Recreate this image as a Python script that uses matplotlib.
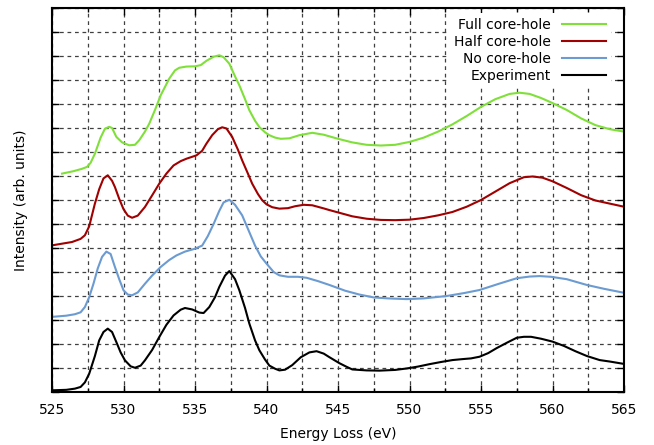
import matplotlib
matplotlib.use("Agg")
import matplotlib.pyplot as plt
from matplotlib.ticker import MultipleLocator, NullFormatter

# energies (eV) and intensities, one pair of lists per curve
exp_e = [525, 526, 526.6, 527, 527.3, 527.6, 528.0, 528.3, 528.6, 528.9, 529.2, 529.5,
         529.8, 530.1, 530.5, 530.8, 531.2, 531.5, 532.0, 532.5, 533.0, 533.5, 534.0,
         534.3, 534.8, 535.3, 535.6, 536.0, 536.4, 536.7, 537.1, 537.4, 537.8, 538.1,
         538.5, 538.8, 539.2, 539.5, 539.9, 540.2, 540.6, 540.9, 541.3, 541.8, 542.4,
         543.0, 543.5, 544.0, 544.4, 545.1, 545.6, 546.0, 547.0, 547.9, 549.0, 549.8,
         550.6, 551.4, 552.2, 553.0, 553.7, 554.3, 554.9, 555.5, 556.1, 556.8, 557.5,
         558.0, 558.5, 559.2, 560.0, 560.8, 561.6, 562.4, 563.3, 564.0, 564.7, 565]
exp_y = [0.07, 0.09, 0.14, 0.21, 0.4, 0.76, 1.5, 2.15, 2.5, 2.64, 2.5, 2.08,
         1.65, 1.32, 1.07, 1.01, 1.1, 1.32, 1.75, 2.29, 2.8, 3.19, 3.43,
         3.5, 3.44, 3.31, 3.29, 3.54, 3.95, 4.38, 4.85, 5.04, 4.7, 4.24,
         3.5, 2.85, 2.15, 1.74, 1.35, 1.1, 0.97, 0.9, 0.93, 1.12, 1.45,
         1.65, 1.7, 1.6, 1.45, 1.2, 1.05, 0.94, 0.9, 0.89, 0.92, 0.98,
         1.06, 1.16, 1.25, 1.33, 1.37, 1.4, 1.47, 1.62, 1.83, 2.05, 2.26,
         2.3, 2.3, 2.22, 2.1, 1.92, 1.7, 1.5, 1.33, 1.27, 1.2, 1.17]

no_e = [525, 526, 526.6, 527.0, 527.3, 527.6, 527.9, 528.2, 528.5, 528.8, 529.1, 529.4,
        529.7, 530.0, 530.3, 530.6, 531.0, 531.5, 532.0, 532.6, 533.2, 533.7, 534.3,
        535.0, 535.5, 535.9, 536.3, 536.7, 537.0, 537.4, 537.8, 538.3, 538.7, 539.2,
        539.6, 540.0, 540.5, 540.9, 541.5, 542.2, 542.8, 543.6, 544.4, 545.5, 546.5,
        547.5, 548.5, 549.8, 551.0, 552.6, 553.8, 554.9, 556.2, 557.5, 558.4, 559.1,
        559.9, 561.0, 562.4, 563.6, 564.95]
no_y = [3.13, 3.18, 3.24, 3.32, 3.54, 3.95, 4.51, 5.15, 5.63, 5.85, 5.75, 5.21,
        4.7, 4.24, 4.06, 4.03, 4.15, 4.51, 4.85, 5.21, 5.5, 5.69, 5.85,
        5.97, 6.1, 6.5, 7.0, 7.55, 7.9, 8.01, 7.8, 7.36, 6.8, 6.1,
        5.65, 5.35, 5.0, 4.86, 4.8, 4.8, 4.76, 4.62, 4.46, 4.22, 4.06,
        3.94, 3.9, 3.87, 3.9, 4.0, 4.12, 4.25, 4.5, 4.74, 4.81, 4.83,
        4.8, 4.7, 4.46, 4.3, 4.14]

half_e = [525, 526.4, 527.0, 527.3, 527.6, 528.0, 528.3, 528.6, 528.9, 529.2, 529.4, 529.7,
          530.0, 530.3, 530.6, 531.0, 531.5, 532.0, 532.5, 533.0, 533.5, 534.0, 534.4,
          535.1, 535.5, 535.8, 536.2, 536.6, 536.9, 537.2, 537.6, 538.0, 538.3, 538.7,
          539.0, 539.4, 539.7, 540.0, 540.4, 540.9, 541.5, 542.0, 542.6, 543.2, 544.0,
          544.4, 545.2, 546.0, 547.0, 548.0, 549.0, 550.0, 551.0, 552.0, 553.0, 554.0,
          555.0, 556.0, 557.0, 558.0, 558.6, 559.3, 560.0, 561.0, 562.0, 563.0, 564.0, 565]
half_y = [6.11, 6.25, 6.38, 6.53, 6.9, 7.85, 8.45, 8.9, 9.03, 8.8, 8.54, 8.05,
          7.62, 7.35, 7.26, 7.35, 7.71, 8.19, 8.68, 9.1, 9.44, 9.62, 9.72,
          9.86, 10.05, 10.35, 10.7, 10.95, 11.03, 10.98, 10.63, 10.1, 9.65, 9.1,
          8.68, 8.25, 7.99, 7.82, 7.7, 7.64, 7.66, 7.74, 7.8, 7.78, 7.65,
          7.58, 7.45, 7.32, 7.22, 7.17, 7.16, 7.18, 7.25, 7.36, 7.5, 7.72,
          8.0, 8.35, 8.7, 8.95, 8.98, 8.93, 8.78, 8.5, 8.2, 7.98, 7.85, 7.72]

full_e = [525.7, 526.5, 527.1, 527.45, 527.7, 528.0, 528.4, 528.7, 529.0, 529.2, 529.5,
          529.9, 530.4, 530.8, 531.1, 531.5, 531.8, 532.2, 532.6, 533.2, 533.6, 533.9,
          534.4, 535.0, 535.4, 535.8, 536.3, 536.7, 537.0, 537.4, 537.8, 538.1, 538.5,
          538.8, 539.2, 539.5, 539.9, 540.2, 540.6, 541.0, 541.6, 542.3, 543.2, 544.0,
          545.0, 546.0, 547.0, 548.0, 549.0, 550.0, 551.0, 552.0, 553.0, 554.0, 555.0,
          556.0, 557.0, 557.7, 558.4, 559.2, 560.0, 561.0, 562.0, 563.0, 564.0, 565]
full_y = [9.1, 9.2, 9.3, 9.38, 9.55, 9.93, 10.6, 10.97, 11.05, 11.0, 10.63,
          10.4, 10.28, 10.3, 10.49, 10.85, 11.18, 11.75, 12.36, 13.06, 13.4, 13.51,
          13.56, 13.57, 13.62, 13.8, 13.97, 14.03, 13.95, 13.68, 13.15, 12.78, 12.2,
          11.74, 11.3, 11.04, 10.82, 10.7, 10.6, 10.55, 10.57, 10.7, 10.8, 10.72,
          10.55, 10.4, 10.3, 10.27, 10.3, 10.42, 10.6, 10.85, 11.15, 11.5, 11.88,
          12.2, 12.42, 12.47, 12.42, 12.25, 12.04, 11.75, 11.4, 11.12, 10.95, 10.85]

labels = ["Full core-hole", "Half core-hole", "No core-hole", "Experiment"]
colors = ["#80e03a", "#a00000", "#6b9bd1", "#000000"]

plt.rcParams['font.family'] = ['DejaVu Sans']
fig = plt.figure(figsize=(6.54, 4.45), dpi=100)
ax = fig.add_axes([52 / 654, 53 / 445, 572 / 654, 384 / 445])

series = [(full_e, full_y), (half_e, half_y), (no_e, no_y), (exp_e, exp_y)]
for (e, y), lab, c in zip(series, labels, colors):
    ax.plot(e, y, color=c, lw=1.5, label=lab, solid_joinstyle='round')

ax.set_xlim(525, 565)
ax.set_ylim(0, 16)
ax.xaxis.set_major_locator(MultipleLocator(5))
ax.xaxis.set_minor_locator(MultipleLocator(2.5))
ax.yaxis.set_major_locator(MultipleLocator(1))
ax.yaxis.set_major_formatter(NullFormatter())

ax.grid(True, which='both', axis='x', color='0.25', lw=0.9, linestyle=(0, (3, 3)))
ax.grid(True, which='major', axis='y', color='0.25', lw=0.9, linestyle=(0, (3, 3)))
ax.set_axisbelow(True)

ax.tick_params(which='both', direction='in', top=True, right=True, labelsize=10)
ax.tick_params(which='major', length=5, width=1, pad=8)
ax.tick_params(which='minor', length=3, width=1)
for s in ax.spines.values():
    s.set_linewidth(1.5)

ax.set_xlabel("Energy Loss (eV)", fontsize=10, labelpad=7)
ax.set_ylabel("Intensity (arb. units)", fontsize=10, labelpad=9)

leg = ax.legend(loc='upper right', frameon=True, markerfirst=False, fontsize=10,
                handlelength=3.2, labelspacing=0.22, borderaxespad=0.3,
                borderpad=0.35, fancybox=False, framealpha=1.0,
                bbox_to_anchor=(0.985, 0.997))
leg.get_frame().set_facecolor('white')
leg.get_frame().set_edgecolor('none')
for t in leg.get_texts():
    t.set_ha('right')

fig.savefig("out.png", dpi=100, facecolor='white')
